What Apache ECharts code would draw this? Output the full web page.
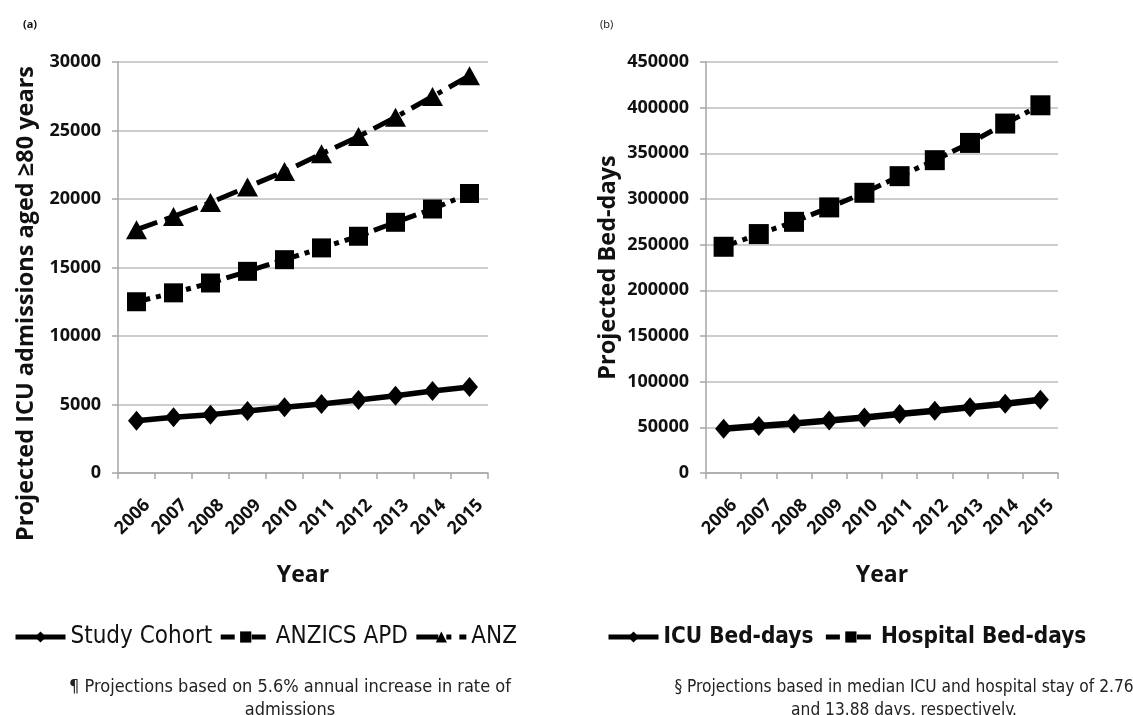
<!DOCTYPE html>
<html>
<head>
<meta charset="utf-8">
<script src="https://cdn.jsdelivr.net/npm/echarts@6/dist/echarts.min.js"></script>
<style>
html,body{margin:0;padding:0;background:#fff;}
#chart{width:1133px;height:715px;}
</style>
</head>
<body>
<div id="chart"></div>
<script>
const years = ['2006','2007','2008','2009','2010','2011','2012','2013','2014','2015'];
const studyCohort = [3820,4070,4260,4530,4800,5040,5330,5640,5980,6270];
const anzicsApd = [12500,13150,13870,14720,15570,16430,17280,18300,19270,20400];
const anz = [17760,18730,19750,20870,22010,23300,24560,25970,27480,29000];
const icuBedDays = [48400,51400,54300,57500,60800,64500,68100,72100,75800,80200];
const hospitalBedDays = [247700,261600,275000,290800,306800,325000,342500,361400,382600,402600];
const leftAxis = {min:0, max:30000, interval:5000, name:'Projected ICU admissions aged \u226580 years'};
const rightAxis = {min:0, max:450000, interval:50000, name:'Projected Bed-days'};
const xName = 'Year';
const noteLeft = '\u00b6 Projections based on 5.6% annual increase in rate of\nadmissions';
const noteRight = '\u00a7 Projections based in median ICU and hospital stay of 2.76\nand 13.88 days, respectively.';

const AX = 'Open Sans';
const NARROW = '"DejaVu Sans Condensed", sans-serif';
const gray = '#a6a6a6';

function xAxisCfg(gi){
  return {
    type:'category', gridIndex:gi, data:years, boundaryGap:true,
    axisLine:{show:true, lineStyle:{color:gray, width:1.5}},
    axisTick:{show:true, length:6, interval:0, lineStyle:{color:gray, width:1.5}},
    axisLabel:{rotate:45, interval:0, margin:40, padding:[0,-15,0,0], fontSize:18, fontWeight:'bold', color:'#111', fontFamily:AX},
    name:xName, nameLocation:'middle', nameGap:91,
    nameTextStyle:{fontSize:23, fontWeight:'bold', color:'#111', fontFamily:AX}
  };
}
function yAxisCfg(gi, ax, gap, pad){
  return {
    type:'value', gridIndex:gi, min:ax.min, max:ax.max, interval:ax.interval,
    axisLine:{show:true, lineStyle:{color:gray, width:1.5}},
    axisTick:{show:true, length:6, lineStyle:{color:gray, width:1.5}},
    splitLine:{show:true, lineStyle:{color:'#bdbdbd', width:1.5}},
    axisLabel:{margin:17, fontSize:18, fontWeight:'bold', color:'#111', fontFamily:AX, formatter:function(v){return String(v);}},
    name:ax.name, nameLocation:'middle', nameGap:gap,
    nameTextStyle:{fontSize:23.5, fontWeight:'bold', color:'#111', fontFamily:AX, padding:pad}
  };
}
function lineSeries(name, data, xi, symbol, size, type, width){
  return {
    name:name, type:'line', xAxisIndex:xi, yAxisIndex:xi, data:data,
    symbol:symbol, symbolSize:size, showSymbol:true,
    lineStyle:{color:'#000', width:width, type:type, cap:'butt'},
    itemStyle:{color:'#000', borderColor:'#000', borderWidth:0},
    emphasis:{disabled:true}, animation:false
  };
}

const chart = echarts.init(document.getElementById('chart'), null, {renderer:'canvas'});
chart.setOption({
  backgroundColor:'#fff',
  animation:false,
  title:[
    {text:'(a)', left:18, top:14, textStyle:{fontSize:11, fontWeight:'bold', color:'#111', fontFamily:AX}},
    {text:'(b)', left:595, top:14, textStyle:{fontSize:11, fontWeight:'normal', color:'#111', fontFamily:AX}},
    {text:noteLeft, left:285, top:671, textAlign:'center', textStyle:{fontSize:18, fontWeight:'normal', color:'#222', fontFamily:NARROW, lineHeight:23, align:'center'}},
    {text:noteRight, left:899, top:671, textAlign:'center', textStyle:{fontSize:17.2, fontWeight:'normal', color:'#222', fontFamily:NARROW, lineHeight:23, align:'center'}}
  ],
  legend:[
    {left:8, top:620, itemWidth:50, itemHeight:14, itemGap:6,
     lineStyle:{width:5},
     data:['Study Cohort','ANZICS APD','ANZ'],
     textStyle:{fontSize:24, color:'#111', fontFamily:NARROW}},
    {left:601, top:621, itemWidth:50, itemHeight:14, itemGap:10,
     lineStyle:{width:5},
     data:['ICU Bed-days','Hospital Bed-days'],
     textStyle:{fontSize:22.4, fontWeight:'bold', color:'#111', fontFamily:NARROW}}
  ],
  grid:[
    {left:118, right:645, top:62, bottom:242, containLabel:false},
    {left:706, right:75, top:62, bottom:242, containLabel:false}
  ],
  xAxis:[xAxisCfg(0), xAxisCfg(1)],
  yAxis:[yAxisCfg(0, leftAxis, 80, [0,72,0,0]), yAxisCfg(1, rightAxis, 86, 0)],
  series:[
    lineSeries('Study Cohort', studyCohort, 0, 'diamond', [17,20], 'solid', 5.5),
    lineSeries('ANZICS APD', anzicsApd, 0, 'rect', 19, [14,6,5,6], 5),
    lineSeries('ANZ', anz, 0, 'triangle', [21,19], [22,8,5,8], 5),
    lineSeries('ICU Bed-days', icuBedDays, 1, 'diamond', [17,20], 'solid', 6.5),
    lineSeries('Hospital Bed-days', hospitalBedDays, 1, 'rect', 20, [14,6,5,6], 5)
  ]
});
</script>
</body>
</html>
